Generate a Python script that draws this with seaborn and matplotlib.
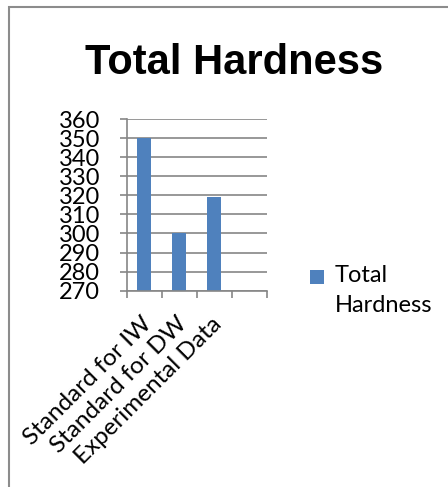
import matplotlib
matplotlib.use("Agg")
import matplotlib.pyplot as plt
import matplotlib.transforms as mtransforms
from matplotlib.patches import Rectangle
from matplotlib.legend_handler import HandlerPatch
import seaborn as sns
import pandas as pd

categories = ["Standard for IW", "Standard for DW", "Experimental Data"]
values = [350, 300, 319]
series_name = "Total\nHardness"
title = "Total Hardness"
y_ticks = [270, 280, 290, 300, 310, 320, 330, 340, 350, 360]

BAR = "#4F81BD"
GRID = "#868686"

plt.rcParams["font.family"] = ["Lato", "DejaVu Sans"]

fig = plt.figure(figsize=(4.48, 4.87), dpi=100)
W, H = 448, 487
ax = fig.add_axes([126.7 / W, 1 - 290.7 / H, (267 - 126.7) / W, (290.7 - 119) / H])

df = pd.DataFrame({"cat": categories, "val": values})
sns.barplot(data=df, x="cat", y="val", color=BAR, width=0.4,
            linewidth=0, saturation=1, ax=ax)

ax.set_xlim(-0.5, 3.5)
ax.set_ylim(270, 360)
ax.set_yticks(y_ticks)
ax.set_xlabel("")
ax.set_ylabel("")
ax.yaxis.grid(True, color=GRID, linewidth=1.2)
ax.set_axisbelow(True)
for s in ["top", "right"]:
    ax.spines[s].set_visible(False)
for s in ["left", "bottom"]:
    ax.spines[s].set_color(GRID)
    ax.spines[s].set_linewidth(1.2)

ax.tick_params(axis="y", length=5, color=GRID, width=1.2, pad=14, labelsize=17)
ax.set_xticks([0, 1, 2])
ax.set_xticklabels(categories, rotation=45, ha="right", va="top",
                   rotation_mode="anchor", fontsize=17.5)
ax.tick_params(axis="x", which="major", length=0, pad=16)
ax.set_xticks([-0.5, 0.5, 1.5, 2.5, 3.5], minor=True)
ax.tick_params(axis="x", which="minor", length=5, color=GRID, width=1.2)
off = mtransforms.ScaledTranslation(-3 / 100, 0, fig.dpi_scale_trans)
for lab in ax.get_xticklabels():
    lab.set_transform(lab.get_transform() + off)

LEG_FS = 17
SQ_UP = 10.5  # points: lift square to the first text line


def square(legend, orig_handle, xdescent, ydescent, width, height, fontsize):
    return Rectangle((-xdescent, -ydescent + SQ_UP), width, width)


leg = ax.legend(handles=[ax.patches[0]], labels=[series_name],
                handler_map={Rectangle: HandlerPatch(patch_func=square)},
                loc="upper left", bbox_to_anchor=(310 / W, 1 - 265 / H),
                bbox_transform=fig.transFigure, frameon=False,
                fontsize=LEG_FS, handlelength=0.6, handleheight=0.6,
                handletextpad=0.45, borderpad=0, borderaxespad=0)
for t in leg.get_texts():
    t.set_linespacing(1.55)

fig.text(234 / W, 1 - 74 / H, title, ha="center", va="baseline",
         fontsize=30, fontweight="bold",
         family=["Liberation Sans", "DejaVu Sans"])

fig.patches.append(Rectangle((9 / W, -0.05), 1.1, 1 - 7 / H + 0.05,
                             transform=fig.transFigure, fill=False,
                             edgecolor="#8c8c8c", linewidth=1.5))

fig.savefig("out.png", dpi=100)
